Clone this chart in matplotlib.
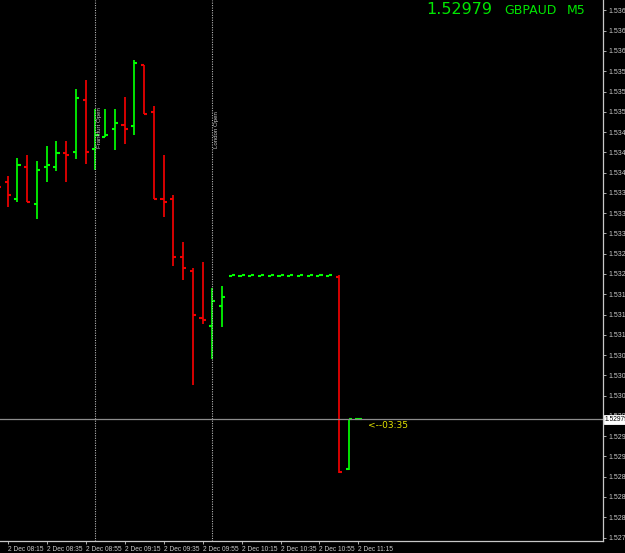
import matplotlib
matplotlib.use("Agg")
import matplotlib.pyplot as plt

# GBPAUD M5 bars, 2 Dec 08:10 .. 11:15 (prices)
times = ["08:10", "08:15", "08:20", "08:25", "08:30", "08:35", "08:40", "08:45",
         "08:50", "08:55", "09:00", "09:05", "09:10", "09:15", "09:20", "09:25",
         "09:30", "09:35", "09:40", "09:45", "09:50", "09:55", "10:00", "10:05",
         "10:10", "10:15", "10:20", "10:25", "10:30", "10:35", "10:40", "10:45",
         "10:50", "10:55", "11:00", "11:05", "11:10", "11:15"]
opens = [1.53395, 1.53389, 1.53360, 1.53414, 1.53350, 1.53415, 1.53415, 1.53439,
         1.53440, 1.53530, 1.53446, 1.53466, 1.53480, 1.53488, 1.53485, 1.53590,
         1.53510, 1.53359, 1.53359, 1.53260, 1.53235, 1.53154, 1.53140, 1.53175,
         1.53226, 1.53226, 1.53226, 1.53226, 1.53226, 1.53226, 1.53226, 1.53226,
         1.53226, 1.53226, 1.53226, 1.53225, 1.52893, 1.52979]
highs = [1.53405, 1.53400, 1.53430, 1.53435, 1.53425, 1.53451, 1.53460, 1.53460,
         1.53550, 1.53565, 1.53514, 1.53514, 1.53514, 1.53535, 1.53600, 1.53590,
         1.53520, 1.53435, 1.53366, 1.53285, 1.53240, 1.53250, 1.53206, 1.53210,
         1.53228, 1.53228, 1.53228, 1.53228, 1.53228, 1.53228, 1.53228, 1.53228,
         1.53228, 1.53228, 1.53228, 1.53228, 1.52979, 1.52979]
lows = [1.53370, 1.53345, 1.53354, 1.53355, 1.53325, 1.53389, 1.53408, 1.53389,
        1.53429, 1.53420, 1.53409, 1.53466, 1.53444, 1.53454, 1.53470, 1.53506,
        1.53360, 1.53329, 1.53244, 1.53220, 1.53039, 1.53144, 1.53083, 1.53139,
        1.53226, 1.53226, 1.53226, 1.53226, 1.53226, 1.53226, 1.53226, 1.53226,
        1.53226, 1.53226, 1.53226, 1.52887, 1.52892, 1.52979]
closes = [1.53380, 1.53366, 1.53419, 1.53355, 1.53409, 1.53419, 1.53439, 1.53435,
          1.53534, 1.53440, 1.53470, 1.53470, 1.53490, 1.53480, 1.53595, 1.53506,
          1.53360, 1.53355, 1.53260, 1.53241, 1.53159, 1.53150, 1.53184, 1.53191,
          1.53228, 1.53228, 1.53228, 1.53228, 1.53228, 1.53228, 1.53228, 1.53228,
          1.53228, 1.53228, 1.53228, 1.52888, 1.52979, 1.52979]

bid = 1.52979
symbol = "GBPAUD"
timeframe = "M5"
countdown = "<--03:35"
sessions = [("09:00", "Frankfurt Open"), ("10:00", "London Open")]

price_ticks = [1.53685, 1.53650, 1.53615, 1.53580, 1.53545, 1.53510, 1.53475,
               1.53440, 1.53405, 1.53370, 1.53335, 1.53300, 1.53265, 1.53230,
               1.53195, 1.53160, 1.53125, 1.53090, 1.53055, 1.53020, 1.52985,
               1.52950, 1.52915, 1.52880, 1.52845, 1.52810, 1.52775]
time_ticks = ["08:15", "08:35", "08:55", "09:15", "09:35", "09:55", "10:15",
              "10:35", "10:55", "11:15"]

plt.rcParams['font.family'] = ['Liberation Sans', 'DejaVu Sans']

fig = plt.figure(figsize=(6.25, 5.53), dpi=100, facecolor='black')
ax = fig.add_axes([0.0, 12 / 553, 603 / 625, 541 / 553])
ax.set_facecolor('black')

up_col = '#00ff00'
dn_col = '#f00000'
tick_w = 0.32

for i in range(len(times)):
    col = up_col if closes[i] >= opens[i] else dn_col
    if highs[i] > lows[i]:
        ax.vlines(i, lows[i], highs[i], color=col, lw=1.25)
    ax.hlines(opens[i], i - tick_w, i, color=col, lw=1.5)
    ax.hlines(closes[i], i, i + tick_w, color=col, lw=1.5)

# session open markers
for t, name in sessions:
    xi = times.index(t)
    ax.axvline(xi, color='#b4b4b4', lw=0.8, ls=(0, (1, 1.2)))
    ax.text(xi + 0.4, 1.53447, name, rotation=90, color='#c8c8c8',
            fontsize=4.4, ha='center', va='bottom')

# bid line + countdown
ax.axhline(bid, color='#8c8c8c', lw=0.9)
ax.text(len(times) + 0.0, bid - 0.00011, countdown, color='#e6e600',
        fontsize=6.5, family='DejaVu Sans', ha='left', va='center')
ax.text(1.003, bid, f"{bid:.5f}", transform=ax.get_yaxis_transform(),
        fontsize=4.8, color='black', ha='left', va='center', clip_on=False,
        bbox=dict(boxstyle='square,pad=0.15', fc='white', ec='white', lw=0.6))

ax.set_xlim(0.21, 62.1)
ax.set_ylim(1.52769, 1.53703)

ax.yaxis.tick_right()
ax.set_yticks(price_ticks)
ax.set_yticklabels([f"{p:.5f}" for p in price_ticks])
ax.tick_params(axis='y', colors='#c8c8c8', labelsize=5, length=2.5, width=0.6, pad=1.2)

ax.set_xticks([times.index(t) for t in time_ticks])
ax.set_xticklabels(["2 Dec " + t for t in time_ticks])
ax.tick_params(axis='x', colors='#c8c8c8', labelsize=4.8, length=2, width=0.6, pad=1.5)
for lbl in ax.get_xticklabels():
    lbl.set_ha('left')

for side in ['left', 'top']:
    ax.spines[side].set_visible(False)
for side in ['right', 'bottom']:
    ax.spines[side].set_color('#c8c8c8')
    ax.spines[side].set_linewidth(0.9)

# header
fig.text(426 / 625, 1 - 10 / 553, f"{bid:.5f}", color='#00e600', fontsize=11.5,
         family='DejaVu Sans', ha='left', va='center')
fig.text(504 / 625, 1 - 10 / 553, symbol, color='#00e600', fontsize=9,
         family='DejaVu Sans', ha='left', va='center')
fig.text(567 / 625, 1 - 10 / 553, timeframe, color='#00e600', fontsize=9,
         family='DejaVu Sans', ha='left', va='center')

fig.savefig("out.png", dpi=100, facecolor='black')
